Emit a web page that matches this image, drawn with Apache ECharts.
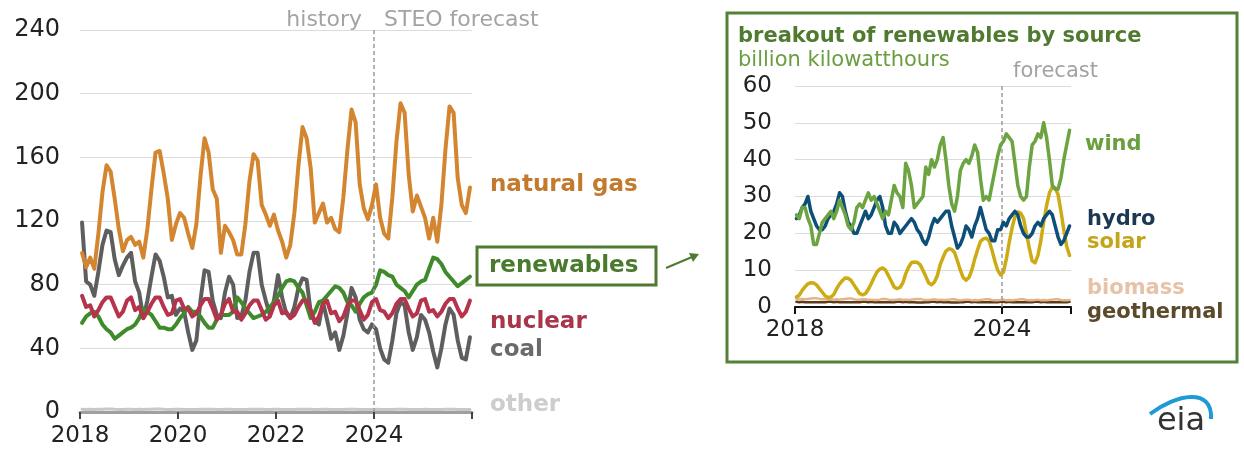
<!DOCTYPE html>
<html>
<head>
<meta charset="utf-8">
<title>U.S. electricity generation by source</title>
<script src="https://cdn.jsdelivr.net/npm/echarts@6/dist/echarts.min.js"></script>
<style>
  html, body { margin: 0; padding: 0; background: #ffffff; }
  #chart { width: 1244px; height: 456px; }
</style>
</head>
<body>
<div id="chart"></div>
<script>
// Monthly generation, January 2018 through December 2025 (billion kWh)
const startYear = 2018;
const forecastStart = 72; // January 2024, months after January 2018

const naturalGas = [
  100, 91, 97, 90, 112, 138, 155, 151, 134, 115, 101, 108,
  110, 105, 107, 97, 115, 140, 163, 164, 150, 134, 108, 118,
  125, 122, 112, 103, 118, 148, 172, 163, 140, 134, 100, 117,
  113, 108, 99, 99, 118, 145, 162, 158, 130, 124, 117, 124,
  114, 107, 97, 105, 125, 155, 179, 172, 153, 119, 125, 131,
  119, 122, 115, 113, 135, 165, 190, 182, 143, 128, 121, 130,
  143, 122, 112, 109, 135, 170, 194, 188, 149, 126, 136, 129,
  122, 109, 122, 107, 130, 165, 192, 188, 147, 130, 125, 141
];
const coal = [
  119, 82, 80, 73, 88, 105, 114, 113, 96, 86, 92, 97,
  100, 82, 75, 59, 70, 85, 99, 95, 85, 72, 73, 61,
  65, 63, 50, 39, 45, 70, 89, 88, 70, 61, 59, 75,
  85, 80, 59, 60, 70, 88, 100, 100, 80, 70, 61, 70,
  86, 72, 62, 59, 66, 78, 84, 83, 63, 57, 55, 69,
  58, 46, 50, 39, 48, 62, 78, 72, 58, 52, 50, 55,
  52, 40, 33, 31, 45, 62, 69, 67, 50, 39, 47, 61,
  58, 50, 38, 28, 40, 55, 65, 61, 45, 34, 33, 47
];
const nuclear = [
  73, 66, 67, 60, 64, 69, 72, 72, 66, 60, 63, 70,
  72, 64, 66, 59, 63, 68, 72, 72, 66, 61, 62, 70,
  71, 65, 65, 60, 62, 67, 71, 71, 65, 58, 61, 68,
  71, 63, 63, 58, 62, 67, 70, 70, 64, 58, 60, 67,
  70, 62, 63, 59, 61, 66, 70, 70, 64, 56, 60, 68,
  70, 62, 63, 57, 60, 67, 70, 70, 64, 58, 61, 69,
  71, 64, 63, 59, 62, 68, 71, 71, 65, 60, 62, 70,
  71, 63, 64, 60, 63, 68, 71, 71, 65, 60, 63, 70
];
const renewables = [
  56, 60, 62, 63, 60, 55, 52, 50, 46, 48, 50, 52,
  53, 55, 59, 65, 63, 61, 57, 53, 53, 52, 52, 55,
  59, 62, 66, 63, 63, 60, 56, 53, 53, 58, 61, 61,
  61, 63, 72, 69, 65, 62, 59, 60, 61, 63, 66, 69,
  73, 78, 82, 83, 82, 78, 75, 67, 59, 63, 69, 70,
  73, 76, 79, 78, 75, 69, 67, 63, 68, 72, 74, 75,
  80, 89, 88, 86, 85, 80, 78, 76, 72, 76, 80, 82,
  83, 90, 97, 96, 93, 88, 85, 82, 79, 81, 83, 85
];
const other = [
  1.8, 1.6, 1.7, 1.6, 1.7, 1.8, 1.9, 1.9, 1.7, 1.6, 1.6, 1.7,
  1.8, 1.6, 1.7, 1.6, 1.7, 1.8, 1.9, 1.9, 1.7, 1.6, 1.6, 1.7,
  1.7, 1.6, 1.6, 1.5, 1.6, 1.7, 1.8, 1.8, 1.7, 1.6, 1.6, 1.7,
  1.7, 1.6, 1.6, 1.5, 1.6, 1.7, 1.8, 1.8, 1.7, 1.6, 1.6, 1.7,
  1.7, 1.6, 1.6, 1.5, 1.6, 1.7, 1.8, 1.8, 1.7, 1.6, 1.6, 1.7,
  1.7, 1.5, 1.6, 1.5, 1.6, 1.7, 1.8, 1.8, 1.6, 1.5, 1.5, 1.6,
  1.7, 1.5, 1.6, 1.5, 1.6, 1.7, 1.8, 1.8, 1.6, 1.5, 1.5, 1.6,
  1.7, 1.5, 1.6, 1.5, 1.6, 1.7, 1.8, 1.8, 1.6, 1.5, 1.5, 1.6
];

// Renewables by source
const wind = [
  25, 24, 27, 27, 24, 22, 17, 17, 20, 23, 24, 25,
  26, 24, 26, 29, 27, 25, 22, 21, 23, 27, 28, 27,
  29, 31, 29, 30, 28, 26, 24, 26, 25, 29, 33, 31,
  30, 27, 39, 37, 33, 27, 28, 29, 30, 38, 36, 40,
  38, 40, 44, 46, 40, 33, 28, 26, 30, 37, 39, 40,
  39, 41, 44, 42, 35, 29, 30, 29, 33, 37, 41, 44,
  45, 47, 46, 45, 39, 33, 30, 29, 30, 38, 44, 45,
  47, 46, 50, 46, 40, 33, 32, 32, 35, 40, 44, 48
];
const hydro = [
  24, 25, 27, 28, 30, 26, 24, 22, 21, 21, 22, 24,
  25, 26, 28, 31, 30, 26, 23, 22, 20, 20, 22, 24,
  26, 24, 25, 27, 29, 30, 27, 22, 20, 20, 23, 22,
  20, 21, 22, 23, 24, 23, 21, 20, 18, 17, 19, 22,
  24, 23, 24, 25, 26, 26, 22, 19, 16, 17, 19, 22,
  21, 19, 22, 24, 27, 24, 21, 20, 18, 18, 21, 21,
  23, 22, 24, 25, 26, 25, 22, 20, 19, 19, 20, 22,
  23, 22, 24, 25, 26, 25, 22, 19, 17, 18, 20, 22
];
const solar = [
  2.7, 3.2, 4.5, 5.5, 6.3, 6.6, 6.5, 6.0, 5.0, 4.0, 3.0, 2.6,
  2.7, 3.4, 5.0, 6.3, 7.2, 7.9, 7.8, 7.2, 6.0, 4.8, 3.6, 3.3,
  3.6, 4.8, 6.3, 8.0, 9.5, 10.3, 10.6, 10.0, 8.5, 7.0, 5.4, 5.0,
  5.3, 6.5, 9.0, 10.8, 12.0, 12.2, 12.1, 11.5, 10.0, 8.3, 6.5, 6.0,
  6.8, 8.5, 11.5, 13.5, 15.2, 15.8, 15.6, 14.8, 12.5, 10.0, 8.0, 7.3,
  8.0, 10.0, 13.0, 15.5, 17.8, 18.5, 18.7, 18.0, 15.5, 12.5, 10.0, 8.7,
  9.5, 13.0, 17.5, 21.5, 24.5, 25.8, 25.5, 24.0, 20.0, 16.0, 12.5, 12.0,
  14.0, 18.0, 23.0, 27.5, 31.0, 32.5, 32.3, 30.5, 26.0, 21.0, 16.5, 14.0
];
const biomass = [
  2.3, 2.1, 2.2, 2.1, 2.2, 2.3, 2.4, 2.4, 2.2, 2.1, 2.1, 2.2,
  2.2, 2.0, 2.1, 2.0, 2.1, 2.2, 2.3, 2.3, 2.1, 2.0, 2.0, 2.1,
  2.1, 2.0, 2.0, 1.9, 1.9, 2.0, 2.2, 2.2, 2.0, 1.9, 1.9, 2.0,
  2.1, 1.9, 2.0, 1.9, 2.0, 2.1, 2.2, 2.2, 2.0, 1.9, 1.9, 2.0,
  2.1, 1.9, 2.0, 1.9, 1.9, 2.0, 2.1, 2.1, 1.9, 1.8, 1.9, 2.0,
  2.0, 1.8, 1.9, 1.8, 1.9, 2.0, 2.1, 2.1, 1.9, 1.8, 1.8, 1.9,
  2.0, 1.8, 1.9, 1.8, 1.9, 2.0, 2.1, 2.1, 1.9, 1.8, 1.8, 1.9,
  2.0, 1.8, 1.9, 1.8, 1.9, 2.0, 2.1, 2.1, 1.9, 1.8, 1.8, 1.9
];
const geothermal = [
  1.4, 1.3, 1.4, 1.3, 1.3, 1.3, 1.3, 1.3, 1.3, 1.3, 1.3, 1.4,
  1.4, 1.3, 1.4, 1.3, 1.3, 1.3, 1.3, 1.3, 1.3, 1.3, 1.3, 1.4,
  1.4, 1.3, 1.4, 1.3, 1.3, 1.3, 1.3, 1.3, 1.3, 1.3, 1.3, 1.4,
  1.4, 1.3, 1.4, 1.3, 1.3, 1.3, 1.2, 1.2, 1.2, 1.3, 1.3, 1.4,
  1.4, 1.3, 1.4, 1.3, 1.3, 1.3, 1.2, 1.2, 1.2, 1.3, 1.3, 1.4,
  1.4, 1.3, 1.4, 1.3, 1.3, 1.3, 1.3, 1.3, 1.3, 1.3, 1.3, 1.4,
  1.4, 1.3, 1.4, 1.3, 1.3, 1.3, 1.3, 1.3, 1.3, 1.3, 1.3, 1.4,
  1.4, 1.3, 1.4, 1.3, 1.3, 1.3, 1.3, 1.3, 1.3, 1.3, 1.3, 1.4
];

const leftYTicks = [0, 40, 80, 120, 160, 200, 240];
const rightYTicks = [0, 10, 20, 30, 40, 50, 60];

const FONT = 'DejaVu Sans';

// each month is drawn at the middle of its slot on a month-index axis
const toPoints = arr => arr.map((v, i) => [i + 0.5, v]);

function lineSeries(name, data, color, width, grid, z) {
  return {
    name, type: 'line', xAxisIndex: grid, yAxisIndex: grid,
    data: toPoints(data), showSymbol: false, symbol: 'none',
    lineStyle: { color, width, join: 'round', cap: 'round' },
    z: z || 2, animation: false, silent: true
  };
}

function forecastMarker(grid) {
  return {
    type: 'line', xAxisIndex: grid, yAxisIndex: grid, data: [],
    silent: true, animation: false,
    markLine: {
      symbol: 'none', silent: true, animation: false,
      label: { show: false },
      lineStyle: { color: '#9a9a9a', type: [4, 3], width: 1.5 },
      data: [{ xAxis: forecastStart }]
    }
  };
}

const chart = echarts.init(document.getElementById('chart'), null, { renderer: 'canvas' });

const yearLabel = (shown) => v => (shown.includes(v) ? String(startYear + v / 12) : '');

const option = {
  backgroundColor: '#ffffff',
  animation: false,
  textStyle: { fontFamily: FONT },
  grid: [
    { left: 80, right: 772, top: 30, bottom: 44 },
    { left: 795, right: 173, top: 86, bottom: 149 }
  ],
  xAxis: [
    {
      type: 'value', gridIndex: 0, min: 0, max: 96, interval: 24,
      axisLine: { show: true, lineStyle: { color: '#a0a0a0', width: 3 } },
      axisTick: { show: true, length: 7, lineStyle: { color: '#444', width: 2 } },
      axisLabel: { formatter: yearLabel([0, 24, 48, 72]), fontSize: 23, color: '#222', margin: 13, fontFamily: FONT },
      splitLine: { show: false }
    },
    {
      type: 'value', gridIndex: 1, min: 0, max: 96, interval: 72,
      axisLine: { show: true, lineStyle: { color: '#111', width: 2 } },
      axisTick: { show: true, length: 7, lineStyle: { color: '#111', width: 2 } },
      axisLabel: { formatter: yearLabel([0, 72]), fontSize: 23, color: '#222', margin: 12, fontFamily: FONT },
      splitLine: { show: false }
    }
  ],
  yAxis: [
    {
      type: 'value', gridIndex: 0, min: leftYTicks[0], max: leftYTicks[leftYTicks.length - 1], interval: 40,
      axisLine: { show: false }, axisTick: { show: false },
      axisLabel: { fontSize: 24, color: '#222', margin: 20, fontFamily: FONT },
      splitLine: { lineStyle: { color: '#dcdcdc', width: 1 } }
    },
    {
      type: 'value', gridIndex: 1, min: rightYTicks[0], max: rightYTicks[rightYTicks.length - 1], interval: 10,
      axisLine: { show: false }, axisTick: { show: false },
      axisLabel: { fontSize: 23, color: '#222', margin: 23, fontFamily: FONT },
      splitLine: { lineStyle: { color: '#dcdcdc', width: 1 } }
    }
  ],
  series: [
    forecastMarker(0),
    lineSeries('other', other, '#c8c8c8', 3, 0, 2),
    lineSeries('coal', coal, '#5e5e5e', 4, 0, 3),
    lineSeries('renewables', renewables, '#3f8a2a', 4, 0, 4),
    lineSeries('nuclear', nuclear, '#b5344b', 4, 0, 5),
    lineSeries('natural gas', naturalGas, '#d3862f', 4, 0, 6),
    forecastMarker(1),
    lineSeries('geothermal', geothermal, '#5c3c1c', 2.5, 1, 2),
    lineSeries('biomass', biomass, '#e3b48a', 2.5, 1, 3),
    lineSeries('solar', solar, '#cdab14', 3.5, 1, 4),
    lineSeries('hydro', hydro, '#0e4f78', 3.5, 1, 5),
    lineSeries('wind', wind, '#6ca441', 3.5, 1, 6)
  ],
  graphic: [
    // period captions
    { type: 'text', x: 362, y: 20, style: { text: 'history', fill: '#a3a3a3', font: `22px "${FONT}"`, align: 'right', verticalAlign: 'middle' } },
    { type: 'text', x: 384, y: 20, style: { text: 'STEO forecast', fill: '#a3a3a3', font: `22px "${FONT}"`, align: 'left', verticalAlign: 'middle' } },
    // series names beside the main panel
    { type: 'text', x: 490, y: 185, style: { text: 'natural gas', fill: '#c27b2e', font: `bold 23px "${FONT}"`, verticalAlign: 'middle' } },
    { type: 'rect', shape: { x: 477, y: 247, width: 179, height: 38 }, style: { fill: '#ffffff', stroke: '#4f7a30', lineWidth: 3 } },
    { type: 'text', x: 489, y: 266, style: { text: 'renewables', fill: '#4a7a2c', font: `bold 23px "${FONT}"`, verticalAlign: 'middle' } },
    { type: 'line', shape: { x1: 666, y1: 268, x2: 692, y2: 257 }, style: { stroke: '#4f7a30', lineWidth: 2 } },
    { type: 'polygon', shape: { points: [[699, 254], [689, 253], [693, 262]] }, style: { fill: '#4f7a30' } },
    { type: 'text', x: 490, y: 322, style: { text: 'nuclear', fill: '#a8354a', font: `bold 23px "${FONT}"`, verticalAlign: 'middle' } },
    { type: 'text', x: 490, y: 350, style: { text: 'coal', fill: '#6a6a6a', font: `bold 23px "${FONT}"`, verticalAlign: 'middle' } },
    { type: 'text', x: 490, y: 405, style: { text: 'other', fill: '#cdcdcd', font: `bold 23px "${FONT}"`, verticalAlign: 'middle' } },
    // inset panel frame and titles
    { type: 'rect', z: -1, shape: { x: 727, y: 13, width: 510, height: 349 }, style: { fill: 'none', stroke: '#55803a', lineWidth: 3 } },
    { type: 'text', x: 738, y: 37, style: { text: 'breakout of renewables by source', fill: '#4f7a30', font: `bold 21px "${FONT}"`, verticalAlign: 'middle' } },
    { type: 'text', x: 738, y: 61, style: { text: 'billion kilowatthours', fill: '#6a9e40', font: `21px "${FONT}"`, verticalAlign: 'middle' } },
    { type: 'text', x: 1013, y: 72, style: { text: 'forecast', fill: '#a3a3a3', font: `21px "${FONT}"`, verticalAlign: 'middle' } },
    { type: 'text', x: 1085, y: 145, style: { text: 'wind', fill: '#6aa03c', font: `bold 21px "${FONT}"`, verticalAlign: 'middle' } },
    { type: 'text', x: 1087, y: 220, style: { text: 'hydro', fill: '#1c3754', font: `bold 21px "${FONT}"`, verticalAlign: 'middle' } },
    { type: 'text', x: 1087, y: 243, style: { text: 'solar', fill: '#c4a51a', font: `bold 21px "${FONT}"`, verticalAlign: 'middle' } },
    { type: 'text', x: 1087, y: 289, style: { text: 'biomass', fill: '#e6c3a8', font: `bold 21px "${FONT}"`, verticalAlign: 'middle' } },
    { type: 'text', x: 1087, y: 313, style: { text: 'geothermal', fill: '#5b4a2a', font: `bold 21px "${FONT}"`, verticalAlign: 'middle' } },
    // agency mark: swoosh above the letters
    { type: 'bezierCurve', shape: { x1: 1150, y1: 414, cpx1: 1176, cpy1: 394, cpx2: 1213, cpy2: 387, x2: 1211, y2: 419 }, style: { stroke: '#1e9ad6', lineWidth: 4, fill: null } },
    { type: 'text', x: 1181, y: 422, style: { text: 'eia', fill: '#333333', font: `32px "${FONT}"`, align: 'center', verticalAlign: 'middle' } }
  ]
};

chart.setOption(option);
</script>
</body>
</html>
